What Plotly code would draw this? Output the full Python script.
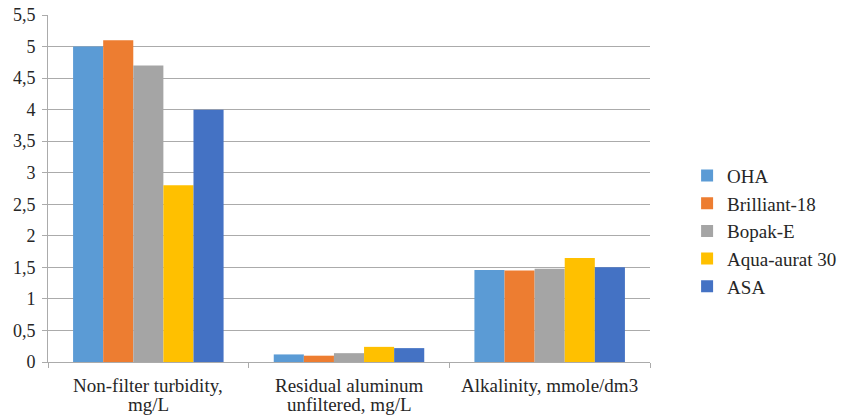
import plotly.graph_objects as go

# Water-treatment indicators for each coagulant
categories = ["Non-filter turbidity", "Residual aluminum", "Alkalinity"]
label_line1 = ["Non-filter turbidity,", "Residual aluminum", "Alkalinity, mmole/dm3"]
label_line2 = ["mg/L", "unfiltered, mg/L", ""]
series_names = ["OHA", "Brilliant-18", "Bopak-E", "Aqua-aurat 30", "ASA"]
oha = [5.0, 0.12, 1.46]
brilliant_18 = [5.1, 0.10, 1.45]
bopak_e = [4.7, 0.14, 1.48]
aqua_aurat_30 = [2.8, 0.24, 1.65]
asa = [4.0, 0.22, 1.50]
series_values = [oha, brilliant_18, bopak_e, aqua_aurat_30, asa]
colors = ["#5B9BD5", "#ED7D31", "#A5A5A5", "#FFC000", "#4472C4"]

y_tick_vals = [0, 0.5, 1, 1.5, 2, 2.5, 3, 3.5, 4, 4.5, 5, 5.5]
y_tick_text = ["0", "0,5", "1", "1,5", "2", "2,5", "3", "3,5", "4", "4,5", "5", "5,5"]

font_family = "Times New Roman"
text_color = "#262626"

fig = go.Figure()
for i, (name, vals, col) in enumerate(zip(series_names, series_values, colors)):
    fig.add_trace(go.Bar(
        x=categories, y=vals, name=name,
        marker=dict(color=col, line=dict(width=0)),
        legendgroup=f"g{i}",
    ))

# Two-line category labels with tight line spacing
for cat, l1, l2 in zip(categories, label_line1, label_line2):
    fig.add_annotation(x=cat, xref="x", y=0, yref="paper", text=l1,
                       showarrow=False, yanchor="top", yshift=-11,
                       font=dict(family=font_family, size=19, color=text_color))
    if l2:
        fig.add_annotation(x=cat, xref="x", y=0, yref="paper", text=l2,
                           showarrow=False, yanchor="top", yshift=-30,
                           font=dict(family=font_family, size=19, color=text_color))

fig.update_layout(
    width=841, height=415,
    margin=dict(l=48, r=191, t=15, b=53, autoexpand=False),
    paper_bgcolor="white", plot_bgcolor="white",
    barmode="group", bargap=0.25, bargroupgap=0,
    font=dict(family=font_family, size=18, color=text_color),
    legend=dict(
        xref="container", yref="container",
        x=0.817, y=0.443, xanchor="left", yanchor="middle",
        font=dict(family=font_family, size=19, color=text_color),
        traceorder="grouped", tracegroupgap=0,
        bgcolor="rgba(0,0,0,0)",
    ),
    showlegend=True,
)

fig.update_yaxes(
    range=[0, 5.5], automargin=False,
    tickvals=y_tick_vals, ticktext=y_tick_text,
    showgrid=True, gridcolor="#ABABAB", gridwidth=1,
    showline=True, linecolor="#ABABAB", linewidth=1,
    ticks="outside", ticklen=5, tickcolor="#ABABAB",
    ticklabelstandoff=3,
    zeroline=False,
    tickfont=dict(family=font_family, size=18, color=text_color),
)
fig.update_xaxes(
    automargin=False,
    showline=True, linecolor="#ABABAB", linewidth=1,
    ticks="outside", ticklen=5, tickcolor="#ABABAB",
    tickson="boundaries", showticklabels=False,
)

fig.write_html("out.html")
